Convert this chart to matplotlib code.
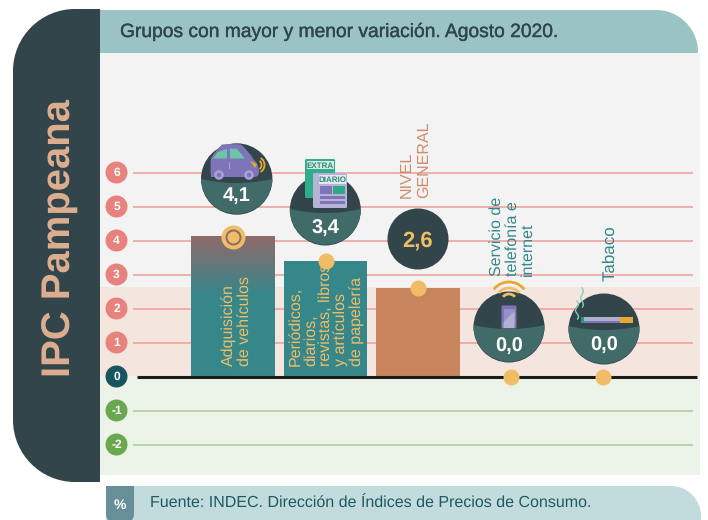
import numpy as np
import matplotlib
matplotlib.use("Agg")
import matplotlib.pyplot as plt
from matplotlib.patches import Circle, Rectangle, PathPatch, FancyBboxPatch, Polygon, Arc
from matplotlib.path import Path
import matplotlib.patheffects as pe

plt.rcParams['font.family'] = ['Liberation Sans', 'DejaVu Sans']
plt.rcParams['text.hinting'] = 'no_hinting'
plt.rcParams['text.hinting_factor'] = 1

# ---- data
categories = ["Adquisición\nde vehículos",
              "Periódicos,\ndiarios,\nrevistas, libros\ny artículos\nde papelería",
              "NIVEL\nGENERAL",
              "Servicio de\ntelefonía e\ninternet",
              "Tabaco"]
values = [4.1, 3.4, 2.6, 0.0, 0.0]
pos_ticks = [1, 2, 3, 4, 5, 6]
neg_ticks = [-1, -2]
title = "Grupos con mayor y menor variación. Agosto 2020."
source = "Fuente: INDEC. Dirección de Índices de Precios de Consumo."
side_title = "IPC Pampeana"

# ---- palette
DARK = "#32454a"; BUB = "#406b68"; GOLD = "#f0bd66"; TEAL = "#36878a"; COPPER = "#c8845c"
PINK = "#e8827c"; GREEN = "#6aa84f"; PURPLE = "#8074b8"; MINT = "#6cc5a8"

W, H = 708, 520
fig = plt.figure(figsize=(W/100, H/100), dpi=100, facecolor="white")


def pixel_axes(z):
    a = fig.add_axes([0, 0, 1, 1], zorder=z)
    a.set_xlim(0, W); a.set_ylim(H, 0); a.axis("off"); a.patch.set_alpha(0)
    return a


bg = pixel_axes(0)
fg = pixel_axes(2)


def round_rect(x0, y0, x1, y1, tl=0, tr=0, br=0, bl=0):
    k = 0.5523
    v = [(x0+tl, y0), (x1-tr, y0)]; c = [Path.MOVETO, Path.LINETO]
    if tr:
        v += [(x1-tr+k*tr, y0), (x1, y0+tr-k*tr), (x1, y0+tr)]; c += [Path.CURVE4]*3
    v += [(x1, y1-br)]; c += [Path.LINETO]
    if br:
        v += [(x1, y1-br+k*br), (x1-br+k*br, y1), (x1-br, y1)]; c += [Path.CURVE4]*3
    v += [(x0+bl, y1)]; c += [Path.LINETO]
    if bl:
        v += [(x0+bl-k*bl, y1), (x0, y1-bl+k*bl), (x0, y1-bl)]; c += [Path.CURVE4]*3
    v += [(x0, y0+tl)]; c += [Path.LINETO]
    if tl:
        v += [(x0, y0+tl-k*tl), (x0+tl-k*tl, y0), (x0+tl, y0)]; c += [Path.CURVE4]*3
    v += [(x0+tl, y0)]; c += [Path.CLOSEPOLY]
    return Path(v, c)


# ---- background panels
bg.add_patch(Rectangle((100, 53), 600, 234, fc="#f3f3f4", ec="none"))
bg.add_patch(Rectangle((100, 287), 600, 89, fc="#f4e5de", ec="none"))
bg.add_patch(Rectangle((100, 376), 600, 99, fc="#ecf3e9", ec="none"))
bg.add_patch(PathPatch(round_rect(99, 10, 698, 53, tr=42), fc="#9ac4c4", ec="none"))
bg.add_patch(PathPatch(round_rect(13, 9, 100, 482, tl=62, bl=62), fc=DARK, ec="none"))
bg.add_patch(PathPatch(round_rect(106, 486, 701, 524, tr=30), fc="#c2dbdc", ec="none"))
bg.add_patch(PathPatch(round_rect(106, 486, 134, 524, br=10, bl=10), fc="#668f98", ec="none"))

bg.text(120, 32, title, fontsize=13.85, color=DARK, va="center", ha="left",
        path_effects=[pe.withStroke(linewidth=0.25, foreground=DARK)])
bg.text(60, 377, side_title, rotation=90, fontsize=28.5, fontweight="bold",
        color="#deaf90", ha="center", va="bottom")
bg.text(120, 505, "%", fontsize=10, fontweight="bold", color="white", ha="center", va="center")
bg.text(150, 503.5, source, fontsize=11.7, color="#1f5a62", ha="left", va="center")

# ---- data axes (px 100..700, 53..475): 34 px per unit, 92.5 px per category
ax = fig.add_axes([100/W, 1-475/H, 600/W, (475-53)/H], zorder=1)
ax.patch.set_alpha(0)
ax.axis("off")
x = np.arange(len(values))
xlim = ((100-233)/92.5, (700-233)/92.5)
ylim = ((376.5-475)/34, (376.5-53)/34)

grid_x0 = (133-233)/92.5
grid_x1 = (693-233)/92.5
ax.hlines(pos_ticks, grid_x0, grid_x1, color="#ef9d96", lw=1.1, zorder=1)
ax.hlines(neg_ticks, grid_x0, grid_x1, color="#a9cc98", lw=1.1, zorder=1)

bar_w = 0.9
bar_colors = [TEAL, TEAL, COPPER, TEAL, TEAL]
bars = ax.bar(x, values, width=bar_w, color=bar_colors, zorder=2, linewidth=0)
# gradient on the first bar
grad = np.linspace(0, 1, 128)
c0 = np.array(matplotlib.colors.to_rgb("#8f6a6c")); c1 = np.array(matplotlib.colors.to_rgb(TEAL))
t = np.clip(grad/0.42, 0, 1)[:, None]
img = (c0*(1-t) + c1*t)[:, None, :]
im = ax.imshow(img, extent=(x[0]-bar_w/2, x[0]+bar_w/2, 0, values[0]), origin="upper",
               aspect="auto", zorder=2.1)
ax.hlines(0, (137-233)/92.5, (697-233)/92.5, color="#1c1c1c", lw=2.2, zorder=3)

# dots on the values
ax.scatter(x, values, s=(16*0.72)**2, color=GOLD, linewidths=0, zorder=4)
ax.scatter(x[:1], values[:1], s=(24*0.72)**2, color=GOLD, linewidths=0, zorder=4)
ax.scatter(x[:1], values[:1], s=(16*0.72)**2, color="#8f6a6c", linewidths=0, zorder=4.1)
ax.scatter(x[:1], values[:1], s=(12*0.72)**2, color=GOLD, linewidths=0, zorder=4.2)

# axis badges
bx = (116.5-233)/92.5
all_ticks = pos_ticks + neg_ticks + [0]
cols = [PINK]*len(pos_ticks) + [GREEN]*len(neg_ticks) + ["#17565f"]
ax.scatter([bx]*len(all_ticks), all_ticks, s=(22*0.72)**2, c=cols, linewidths=0, zorder=5, clip_on=False)
for tv in all_ticks:
    ax.text(bx, tv, str(tv), color="white", fontsize=8.6, fontweight="bold",
            ha="center", va="center", zorder=6)
ax.set_xlim(*xlim); ax.set_ylim(*ylim)


# ---- bubbles
def bubble(cx, cy, r, split, text, ty, sag=4):
    fg.add_patch(Circle((cx, cy), r, fc=DARK, ec="none", zorder=1))
    xs = np.linspace(cx-r-1, cx+r+1, 50)
    ys = split + sag*(1-((xs-cx)/r)**2)
    poly = Polygon(list(zip(xs, ys)) + [(cx+r+1, cy+r+1), (cx-r-1, cy+r+1)], fc=BUB, ec="none", zorder=2)
    fg.add_patch(poly)
    poly.set_clip_path(Circle((cx, cy-0.8), r, transform=fg.transData))
    fg.text(cx, ty, text, color="white", fontsize=14.5, fontweight="bold", ha="center", va="center", zorder=6)


fmt = [f"{v:.1f}".replace(".", ",") for v in values]
bubble(236.7, 179, 35.7, 179, fmt[0], 195.5)
bubble(325.3, 210, 35.5, 209, fmt[1], 228.5)
fg.add_patch(Circle((418, 239), 30.5, fc=DARK, ec="none"))
fg.text(418, 240.5, fmt[2], color=GOLD, fontsize=15.5, fontweight="bold", ha="center", va="center")
bubble(509, 327, 35.5, 325, fmt[3], 346.5)
bubble(604, 329, 35.5, 326, fmt[4], 345.5)

# ---- car
car = Path([(211, 176), (210, 166), (211, 158), (216, 150), (222, 144.5), (232, 143.5), (241, 144.5),
            (248, 150), (254, 160), (259, 164), (259, 172), (259, 177), (254, 177), (211, 177), (211, 176)],
           [Path.MOVETO, Path.CURVE3, Path.CURVE3, Path.CURVE3, Path.CURVE3, Path.CURVE3, Path.CURVE3,
            Path.CURVE3, Path.CURVE3, Path.CURVE3, Path.CURVE3, Path.CURVE3, Path.CURVE3, Path.LINETO, Path.CLOSEPOLY])
fg.add_patch(PathPatch(car, fc=PURPLE, ec="none", zorder=3))
fg.add_patch(Polygon([(213, 158.5), (218, 152), (227, 149), (227, 158.5)], fc=MINT, ec="none", zorder=4))
fg.add_patch(Polygon([(230, 148.5), (237, 149), (245, 158.5), (230, 158.5)], fc=MINT, ec="none", zorder=4))
fg.add_patch(Rectangle((228.5, 162), 1, 7, fc="#a99fd8", ec="none", zorder=4))
for wx in (219, 249):
    fg.add_patch(Circle((wx, 175), 4.8, fc="#a99fd8", ec="none", zorder=4))
    fg.add_patch(Circle((wx, 175), 2.2, fc=PURPLE, ec="none", zorder=5))
fg.add_patch(Polygon([(250, 161), (257, 164), (255, 168)], fc="#e8a82e", ec="none", zorder=5))
for r_ in (3, 6):
    fg.add_patch(Arc((258, 165), 2*r_+1, 2*r_+3, angle=0, theta1=-70, theta2=70, color="#e8a82e", lw=1.3, zorder=5))

# ---- newspaper
fg.add_patch(FancyBboxPatch((305, 159), 30, 39, boxstyle="round,pad=0,rounding_size=1.5", fc="#2fae8e", ec="none", zorder=7))
fg.add_patch(Rectangle((306.5, 161), 27, 8, fc="#d8e8e0", ec="none", zorder=7.5))
fg.text(320, 165.5, "EXTRA", fontsize=5.6, fontweight="bold", color="#2a8e78", ha="center", va="center", zorder=8)
fg.add_patch(FancyBboxPatch((313, 173), 34, 35, boxstyle="round,pad=0,rounding_size=1.5", fc="#b6b3d6", ec="none", zorder=8))
fg.add_patch(Rectangle((319, 175), 27, 9, fc="#e6e6ee", ec="none", zorder=8.5))
fg.text(332.5, 180, "DIARIO", fontsize=5.6, fontweight="bold", color="#2a8e78", ha="center", va="center", zorder=9)
fg.add_patch(Rectangle((320, 186), 12, 8, fc=PURPLE, ec="none", zorder=8.5))
fg.add_patch(Rectangle((333, 186), 12, 8, fc="#2fa88a", ec="none", zorder=8.5))
for yy in (196, 200.5):
    fg.add_patch(Rectangle((320, yy), 25, 3, fc=PURPLE, ec="none", zorder=8.5))

# ---- phone and wifi
fg.add_patch(FancyBboxPatch((501.5, 305.5), 15, 23, boxstyle="round,pad=0,rounding_size=1.5", fc=PURPLE, ec="none", zorder=3))
fg.add_patch(Polygon([(503.5, 322), (514.5, 311), (514.5, 328), (503.5, 328)], fc="#b3afd0", ec="none", zorder=3.5))
fg.add_patch(Rectangle((503.5, 309), 11, 15, fc="#a7a2cf", ec="none", zorder=3.2, alpha=.6))
for dia, col, lw, top in ((36, "#e8a82e", 2.0, 282), (24, GOLD, 2.0, 288), (14, GOLD, 2.0, 294)):
    fg.add_patch(Arc((509, top+dia/2), dia*1.05, dia, theta1=215, theta2=325, color=col, lw=lw, zorder=4))

# ---- cigarette
fg.add_patch(Rectangle((581, 317), 3, 6, fc="#1f9c83", ec="none", zorder=4))
fg.add_patch(Rectangle((584, 317), 36, 6, fc="#aeb0cb", ec="none", zorder=4))
fg.add_patch(Rectangle((584, 321), 36, 2, fc=PURPLE, ec="none", zorder=4.2))
fg.add_patch(Rectangle((620, 317), 13, 6, fc="#e8a82e", ec="none", zorder=4))
sy = np.linspace(0, 1, 30)
fg.plot(577 + 1.5*np.sin(sy*9), 301 + 18*sy, color="#7fd0b8", lw=1, zorder=4)
fg.plot(582 + 1.3*np.sin(sy*9), 288 + 19*sy, color="#7fd0b8", lw=1, zorder=4)

# ---- rotated labels
lab = dict(rotation=90, ha="center", va="bottom", multialignment="left")
fg.text(237, 366, categories[0], color=GOLD, zorder=9, linespacing=1.0, fontsize=11.2, **lab)
fg.text(326.5, 366, categories[1], color=GOLD, zorder=9, linespacing=1.05, fontsize=11.2, **lab)
fg.text(415, 198, categories[2], color="#cd8f6e", zorder=9, linespacing=1.2, fontsize=11.2, **lab)
fg.text(512.5, 276, categories[3], color=TEAL, zorder=9, linespacing=1.05, fontsize=11.6, **lab)
fg.text(610, 281, categories[4], color=TEAL, zorder=9, linespacing=1.0, fontsize=12, **lab)

fig.savefig("out.png", dpi=100)
